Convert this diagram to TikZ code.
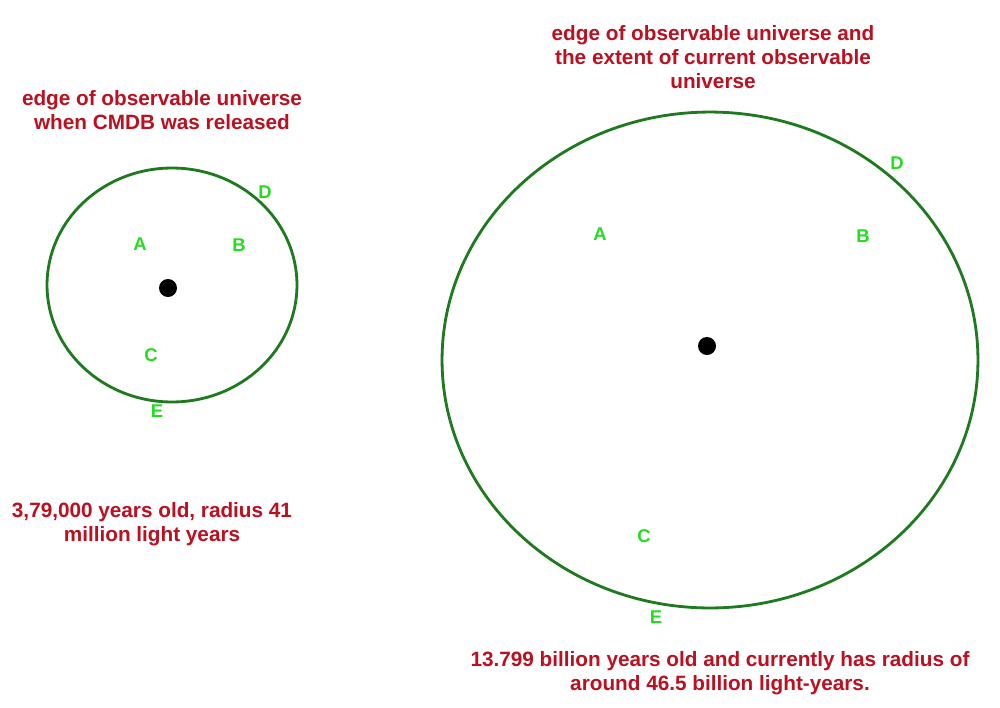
\documentclass[tikz,border=0pt]{standalone}
\usepackage{fontspec}
\setmainfont{Liberation Sans}
\usetikzlibrary{shapes.geometric}
\definecolor{capred}{HTML}{BC1020}
\definecolor{ringgreen}{HTML}{1E7A1E}
\definecolor{lblgreen}{HTML}{22DD22}
\begin{document}
\begin{tikzpicture}[x=0.02cm,y=-0.02cm,
  caption/.style={text=capred,font=\bfseries\fontsize{11.8pt}{13.7pt}\selectfont,align=center},
  ring/.style={ellipse,draw=ringgreen,line width=1.6pt,inner sep=0pt,outer sep=0pt},
  lbl/.style={text=lblgreen,font=\bfseries\fontsize{10.5pt}{12pt}\selectfont,inner sep=1pt},
  centre/.style={circle,fill=black,minimum size=0.36cm,inner sep=0pt}]
\useasboundingbox (0,0) rectangle (1000,707);
\fill[white] (0,0) rectangle (1000,707);
% small universe
\node[caption] (t1) at (162,110) {edge of observable universe\\when CMDB was released};
\node[ring,minimum width=5cm,minimum height=4.68cm] (small) at (172,285) {};
\node[centre] (c1) at (168,288) {};
\node[lbl] (sA) at (140,244) {A};
\node[lbl] (sB) at (239,245) {B};
\node[lbl] (sD) at (265,192) {D};
\node[lbl] (sC) at (151,355) {C};
\node[lbl] (sE) at (157,411) {E};
\node[caption] (b1) at (152,524) {3,79,000 years old, radius 41\\million light years};
% large universe
\node[caption] (t2) at (713,57) {edge of observable universe and\\the extent of current observable\\universe};
\node[ring,minimum width=10.72cm,minimum height=9.92cm] (large) at (710,360) {};
\node[centre] (c2) at (707,346) {};
\node[lbl] (lA) at (600,234) {A};
\node[lbl] (lB) at (863,236) {B};
\node[lbl] (lD) at (897,163) {D};
\node[lbl] (lC) at (644,536) {C};
\node[lbl] (lE) at (656,617) {E};
\node[caption] (b2) at (720,673) {13.799 billion years old and currently has radius of\\around 46.5 billion light-years.};
\end{tikzpicture}
\end{document}
